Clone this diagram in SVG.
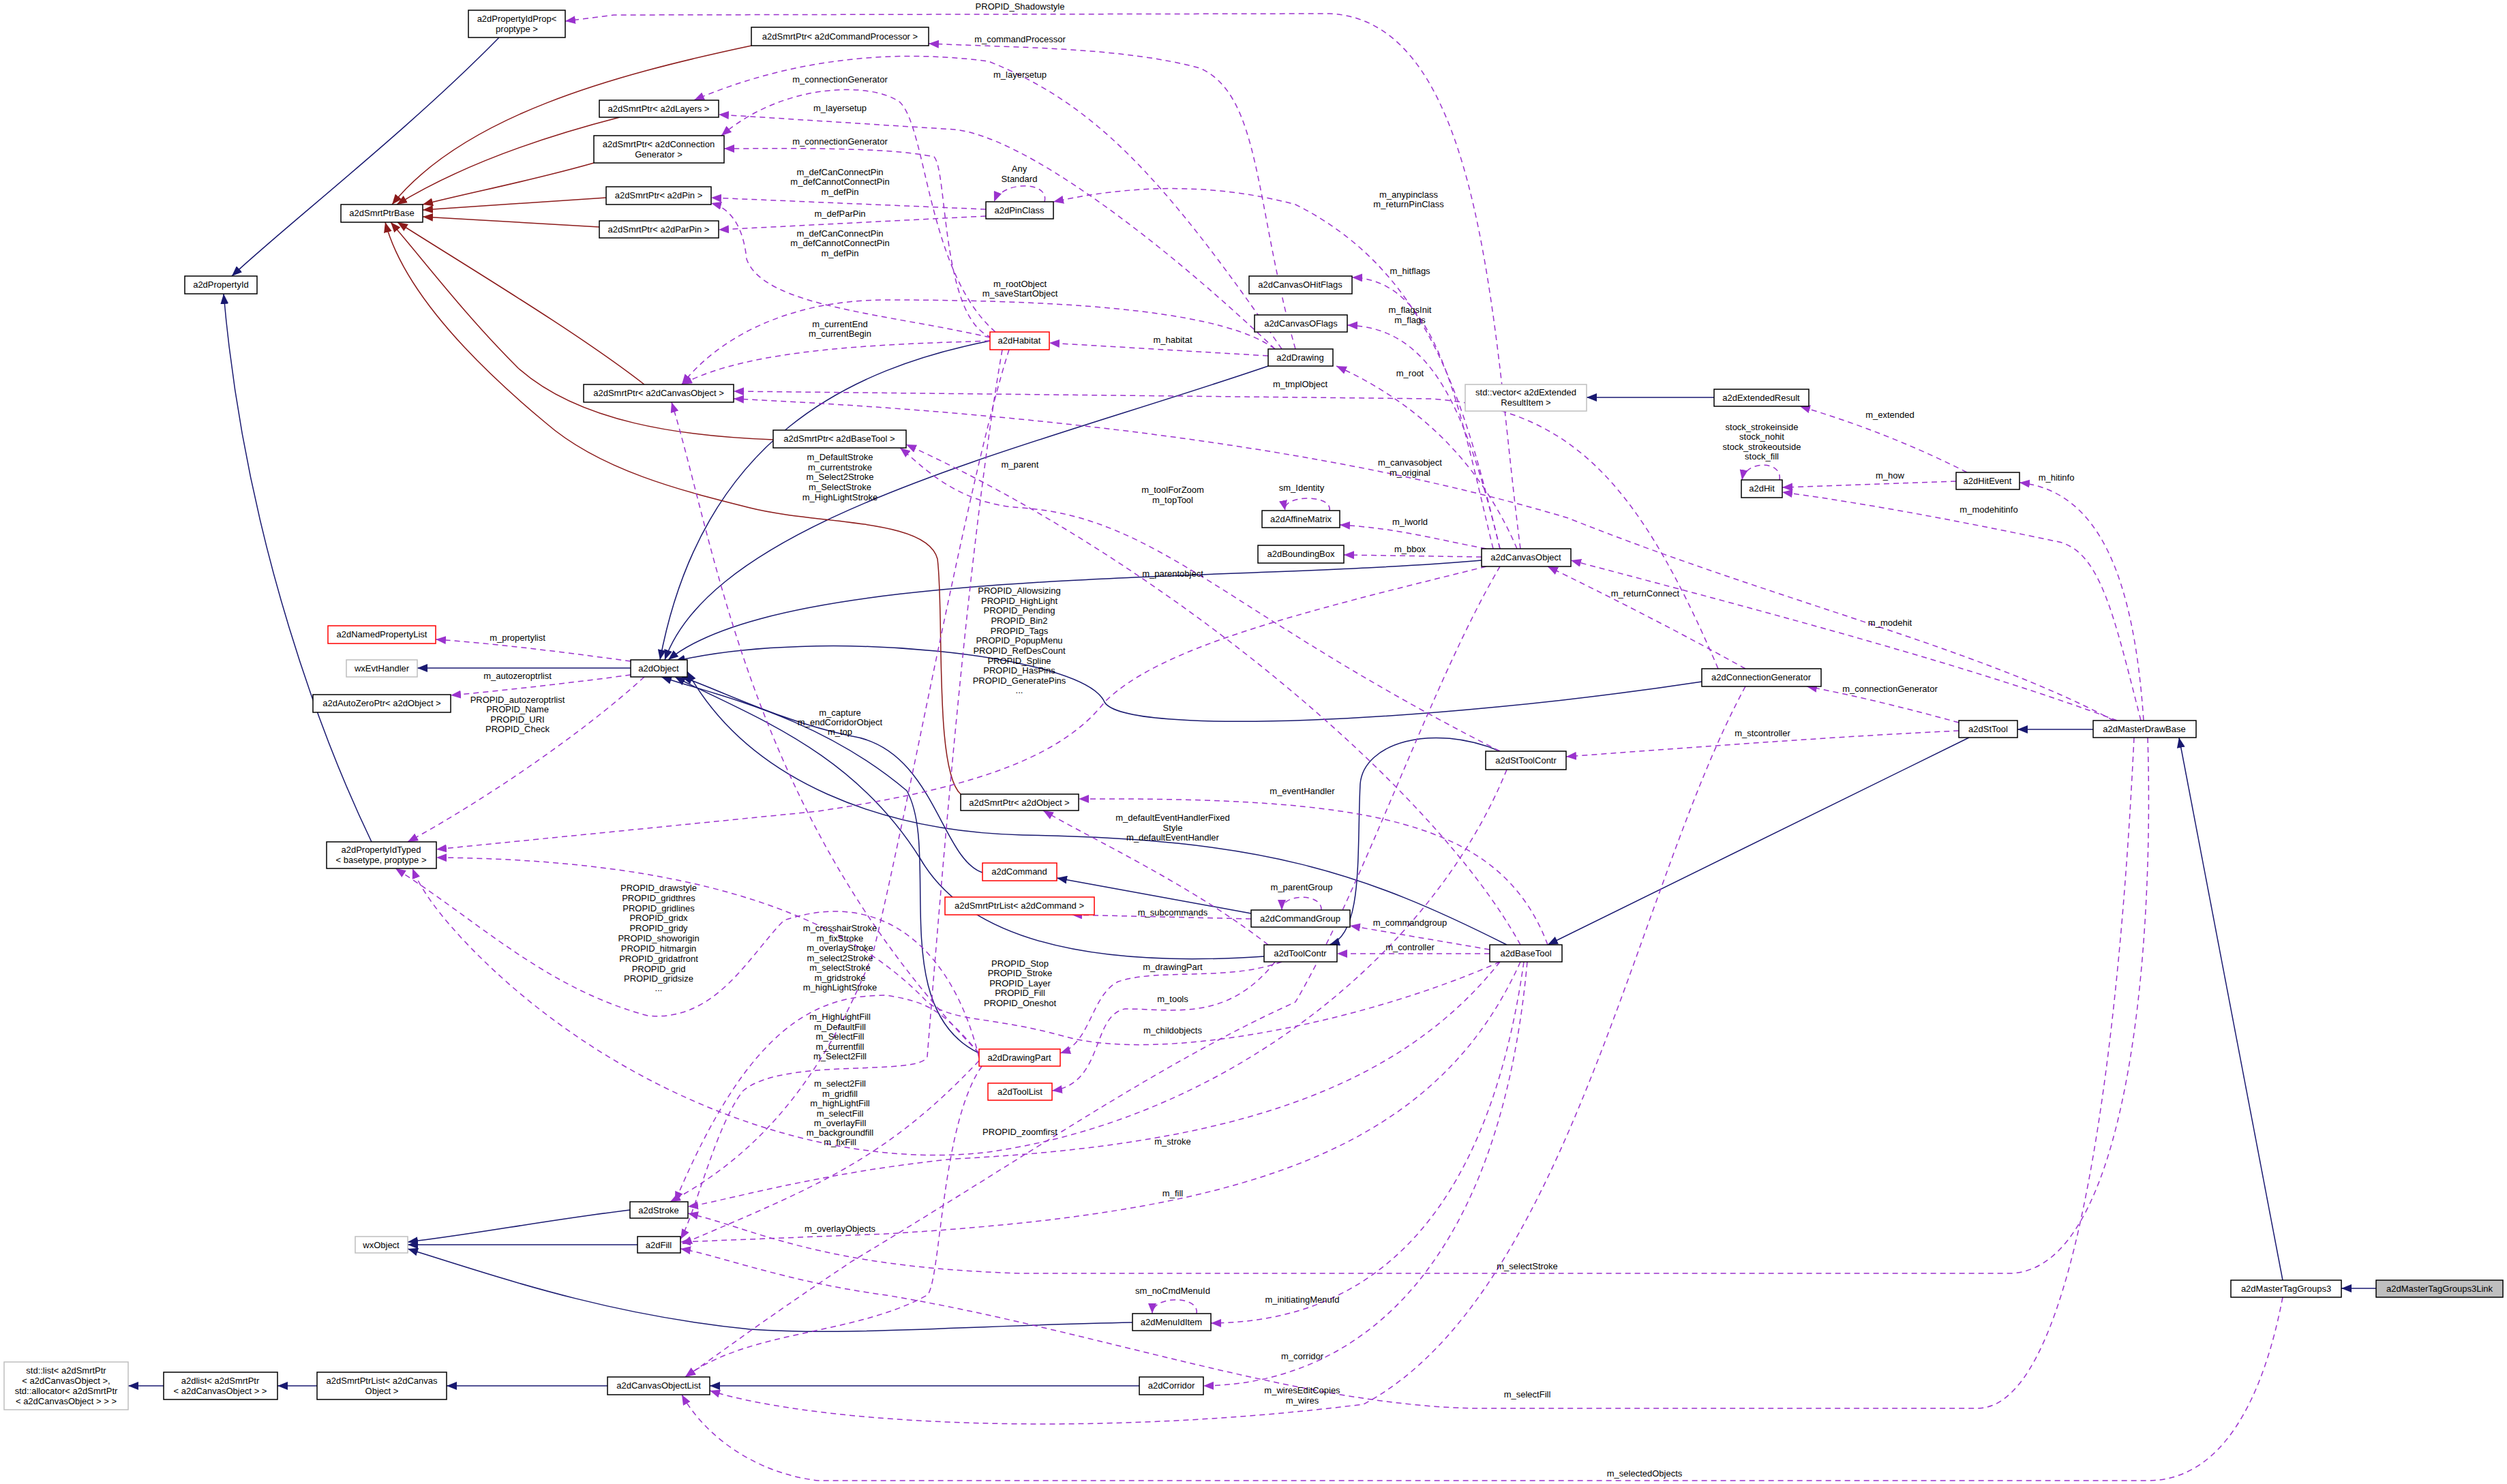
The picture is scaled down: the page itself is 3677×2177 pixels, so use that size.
<svg xmlns="http://www.w3.org/2000/svg" width="3677" height="2177" viewBox="0 0 3677 2177">
<style>
text{font-family:"Liberation Sans",Arial,sans-serif;font-size:13px;text-anchor:middle;fill:#000}
.n rect{fill:#fff;stroke:#000;stroke-width:1.5}
.g rect{fill:#fff;stroke:#bfbfbf;stroke-width:1.5}
.r rect{fill:#fff;stroke:#ff0000;stroke-width:1.5}
.s rect{fill:#bfbfbf;stroke:#000;stroke-width:1.5}
#edges path{fill:none}
.i{stroke:#191970;stroke-width:1.5;marker-end:url(#ai)}
.d{stroke:#8b1a1a;stroke-width:1.5;marker-end:url(#ad)}
.u{stroke:#9a32cd;stroke-width:1.5;stroke-dasharray:8,6;marker-end:url(#au)}
</style>
<defs>
<marker id="ai" markerUnits="userSpaceOnUse" markerWidth="16" markerHeight="12" refX="15" refY="6" orient="auto"><path d="M0,0 L15,6 L0,12 z" fill="#191970"/></marker>
<marker id="ad" markerUnits="userSpaceOnUse" markerWidth="16" markerHeight="12" refX="15" refY="6" orient="auto"><path d="M0,0 L15,6 L0,12 z" fill="#8b1a1a"/></marker>
<marker id="au" markerUnits="userSpaceOnUse" markerWidth="16" markerHeight="12" refX="15" refY="6" orient="auto"><path d="M0,0 L15,6 L0,12 z" fill="#9a32cd"/></marker>
</defs>
<rect width="3677" height="2177" fill="#fff"/>
<g id="edges">
<path class="i" d="M732,55 C600,190 420,330 340,405"/>
<path class="i" d="M545,1235 C480,1100 360,800 328,431"/>
<path class="i" d="M1452,500 C1250,540 1030,640 968,968"/>
<path class="i" d="M1860,537 C1500,660 1050,760 975,968"/>
<path class="i" d="M2173,822 C1800,855 1150,830 980,968"/>
<path class="i" d="M2496,1000 C2100,1060 1650,1080 1620,1030 C1590,960 1200,920 990,970"/>
<path class="i" d="M1441,1280 C1380,1260 1370,1100 1250,1080 C1150,1060 1050,1010 1000,993"/>
<path class="i" d="M2210,1386 C2000,1280 1850,1230 1500,1225 C1300,1220 1100,1150 1008,985"/>
<path class="i" d="M1854,1403 C1600,1420 1420,1380 1350,1260 C1250,1100 1100,1050 990,993"/>
<path class="i" d="M1436,1545 C1300,1480 1380,1250 1330,1160 C1200,1050 1050,1020 970,993"/>
<path class="i" d="M2200,1102 C2100,1060 2000,1090 1995,1150 C1990,1250 2000,1370 1950,1386"/>
<path class="i" d="M1835,1340 L1550,1288"/>
<path class="i" d="M2888,1082 L2270,1386"/>
<path class="i" d="M3070,1070 L2959,1070"/>
<path class="i" d="M3348,1878 L3196,1082"/>
<path class="i" d="M3485,1890 L3434,1890"/>
<path class="i" d="M2514,583 L2327,583"/>
<path class="i" d="M925,980 L612,980"/>
<path class="i" d="M924,1775 C800,1790 700,1810 598,1822"/>
<path class="i" d="M935,1826 L598,1826"/>
<path class="i" d="M1661,1940 C1400,1945 1250,1960 1100,1950 C900,1930 750,1880 598,1832"/>
<path class="i" d="M891,2033 L655,2033"/>
<path class="i" d="M465,2033 L407,2033"/>
<path class="i" d="M240,2033 L188,2033"/>
<path class="i" d="M1671,2033 L1041,2033"/>
<path class="d" d="M1102,67 C900,110 680,170 575,300"/>
<path class="d" d="M909,172 C800,200 680,240 582,300"/>
<path class="d" d="M871,239 C780,265 700,280 620,300"/>
<path class="d" d="M889,290 L620,308"/>
<path class="d" d="M879,333 L620,318"/>
<path class="d" d="M945,564 C850,490 700,400 583,326"/>
<path class="d" d="M1134,645 C1000,640 850,620 760,540 C680,460 620,380 573,326"/>
<path class="d" d="M1409,1165 C1370,1130 1385,900 1375,820 C1360,760 1200,770 1100,745 C1000,720 880,690 800,620 C680,520 590,420 565,326"/>
<path class="u" d="M2230,805 C2190,500 2180,30 1950,20 L900,22 L829,31"/>
<path class="u" d="M1900,512 C1840,300 1850,140 1760,100 C1650,70 1500,70 1362,64"/>
<path class="u" d="M1880,512 C1700,250 1600,150 1450,90 C1300,70 1150,90 1018,147"/>
<path class="u" d="M1460,487 C1360,400 1360,190 1320,150 C1280,120 1150,120 1058,199"/>
<path class="u" d="M1870,512 C1700,350 1500,200 1400,190 L1054,168"/>
<path class="u" d="M1455,495 C1380,470 1390,250 1370,230 C1300,215 1150,218 1062,218"/>
<path class="u" d="M1446,307 L1043,290"/>
<path class="u" d="M1446,317 L1054,337"/>
<path class="u" d="M1452,495 C1300,460 1120,450 1095,380 C1090,330 1070,305 1043,298"/>
<path class="u" d="M1532,296 C1540,265 1470,265 1458,296"/>
<path class="u" d="M2200,805 C2150,600 2100,400 1900,300 C1750,260 1620,280 1545,296"/>
<path class="u" d="M1870,512 C1800,460 1600,440 1300,440 C1150,440 1050,500 1000,564"/>
<path class="u" d="M1452,500 C1300,505 1100,510 1000,564"/>
<path class="u" d="M1860,522 L1539,503"/>
<path class="u" d="M2190,805 C2140,600 2110,410 1983,407"/>
<path class="u" d="M2200,805 C2150,600 2100,480 1976,477"/>
<path class="u" d="M2225,805 C2180,700 2100,600 1960,537"/>
<path class="u" d="M2520,981 C2400,700 2300,600 2100,585 L1076,574"/>
<path class="u" d="M3100,1057 C2900,950 2600,880 2300,760 C1900,640 1400,600 1076,585"/>
<path class="u" d="M2230,1386 C2100,1150 1700,820 1329,652"/>
<path class="u" d="M2200,1102 C1800,900 1700,760 1500,745 C1400,740 1350,680 1320,657"/>
<path class="u" d="M1950,749 C1955,725 1880,725 1885,749"/>
<path class="u" d="M2180,805 C2100,790 2050,775 1965,770"/>
<path class="u" d="M2173,817 L1971,814"/>
<path class="u" d="M2180,831 C1900,900 1700,950 1620,1030 C1550,1120 1400,1160 1200,1190 C900,1220 700,1240 640,1246"/>
<path class="u" d="M2560,981 C2450,920 2350,870 2270,831"/>
<path class="u" d="M2885,693 C2800,650 2720,620 2640,596"/>
<path class="u" d="M2610,704 C2615,675 2560,675 2555,704"/>
<path class="u" d="M2869,706 L2614,715"/>
<path class="u" d="M3144,1057 C3130,850 3080,720 2962,708"/>
<path class="u" d="M3140,1057 C3100,900 3080,810 3020,795 C2900,770 2750,740 2614,722"/>
<path class="u" d="M3105,1057 C2900,980 2600,900 2304,822"/>
<path class="u" d="M2873,1060 C2800,1040 2720,1020 2650,1007"/>
<path class="u" d="M2873,1072 C2700,1080 2500,1095 2297,1110"/>
<path class="u" d="M2270,1386 C2200,1200 2000,1170 1582,1172"/>
<path class="u" d="M1860,1386 C1750,1300 1600,1230 1530,1189"/>
<path class="u" d="M1938,1335 C1940,1310 1880,1310 1880,1335"/>
<path class="u" d="M1835,1348 L1572,1342"/>
<path class="u" d="M2185,1393 L1980,1358"/>
<path class="u" d="M2185,1399 L1961,1399"/>
<path class="u" d="M2200,1411 C2000,1500 1700,1560 1560,1520 C1450,1490 1400,1500 1360,1470 C1200,1300 900,1260 640,1258"/>
<path class="u" d="M1880,1411 C1800,1440 1700,1420 1640,1440 C1600,1460 1600,1530 1555,1545"/>
<path class="u" d="M1870,1411 C1800,1500 1720,1480 1650,1480 C1600,1490 1620,1590 1543,1600"/>
<path class="u" d="M2200,831 C2100,1000 2000,1300 1900,1470 C1700,1560 1500,1700 1250,1850 C1100,1950 1050,1990 1005,2020"/>
<path class="u" d="M2210,1129 C2100,1400 1800,1640 1450,1690 C1200,1720 900,1600 700,1400 C640,1340 615,1300 605,1274"/>
<path class="u" d="M2200,1411 C2050,1600 1800,1680 1400,1700 C1200,1720 1050,1765 1009,1770"/>
<path class="u" d="M2230,1411 C2100,1700 1800,1780 1300,1810 L998,1822"/>
<path class="u" d="M3150,1082 C3160,1400 3120,1860 2950,1868 L1500,1868 C1200,1860 1100,1800 1009,1780"/>
<path class="u" d="M1755,1927 C1760,1900 1690,1900 1690,1927"/>
<path class="u" d="M2235,1411 C2180,1800 2000,1940 1776,1941"/>
<path class="u" d="M2240,1411 C2200,1850 2000,2030 1765,2033"/>
<path class="u" d="M2560,1007 C2400,1300 2300,1900 2000,2060 C1600,2110 1200,2090 1041,2040"/>
<path class="u" d="M3130,1082 C3110,1500 3050,2066 2900,2066 L2160,2066 C1900,2060 1600,1950 1300,1900 C1150,1880 1050,1840 998,1832"/>
<path class="u" d="M3348,1903 C3320,2050 3260,2172 3150,2172 L1200,2172 C1100,2160 1030,2100 1000,2046"/>
<path class="u" d="M1436,1552 C1400,1400 1300,1300 1150,1350 C1100,1400 1050,1500 950,1490 C800,1450 700,1350 580,1274"/>
<path class="u" d="M1436,1545 C1380,1480 1360,1470 1300,1460 C1200,1460 1100,1500 990,1763"/>
<path class="u" d="M1470,513 C1420,800 1380,1300 1360,1550 C1350,1580 1150,1550 1090,1600 C1050,1650 1020,1780 998,1818"/>
<path class="u" d="M1436,1556 C1300,1700 1200,1740 1000,1825"/>
<path class="u" d="M1440,1564 C1380,1650 1380,1880 1360,1900 C1250,1960 1100,1950 1005,2020"/>
<path class="u" d="M1480,513 C1420,700 1330,1200 1280,1400 C1200,1600 1100,1700 983,1763"/>
<path class="u" d="M1436,1545 C1100,1200 1050,800 985,590"/>
<path class="u" d="M925,970 C850,960 740,945 639,938"/>
<path class="u" d="M925,990 C850,1000 750,1012 661,1020"/>
<path class="u" d="M945,993 C850,1080 700,1180 598,1235"/>
</g>
<g id="labels">
<text x="1496" y="14">PROPID_Shadowstyle</text>
<text x="1496" y="62">m_commandProcessor</text>
<text x="1496" y="114">m_layersetup</text>
<text x="1232" y="121">m_connectionGenerator</text>
<text x="1232" y="163">m_layersetup</text>
<text x="1232" y="212">m_connectionGenerator</text>
<text x="1232" y="257">m_defCanConnectPin</text><text x="1232" y="271">m_defCannotConnectPin</text><text x="1232" y="286">m_defPin</text>
<text x="1232" y="318">m_defParPin</text>
<text x="1232" y="347">m_defCanConnectPin</text><text x="1232" y="361">m_defCannotConnectPin</text><text x="1232" y="376">m_defPin</text>
<text x="1495" y="252">Any</text><text x="1495" y="267">Standard</text>
<text x="2066" y="290">m_anypinclass</text><text x="2066" y="304">m_returnPinClass</text>
<text x="1496" y="421">m_rootObject</text><text x="1496" y="435">m_saveStartObject</text>
<text x="1232" y="480">m_currentEnd</text><text x="1232" y="494">m_currentBegin</text>
<text x="1720" y="503">m_habitat</text>
<text x="2068" y="402">m_hitflags</text>
<text x="2068" y="459">m_flagsInit</text><text x="2068" y="474">m_flags</text>
<text x="2068" y="552">m_root</text>
<text x="1907" y="568">m_tmplObject</text>
<text x="2068" y="683">m_canvasobject</text><text x="2068" y="698">m_original</text>
<text x="1496" y="686">m_parent</text>
<text x="1720" y="723">m_toolForZoom</text><text x="1720" y="738">m_topTool</text>
<text x="1909" y="720">sm_Identity</text>
<text x="2068" y="770">m_lworld</text>
<text x="2068" y="810">m_bbox</text>
<text x="1720" y="846">m_parentobject</text>
<text x="1495" y="871">PROPID_Allowsizing</text><text x="1495" y="886">PROPID_HighLight</text><text x="1495" y="900">PROPID_Pending</text><text x="1495" y="915">PROPID_Bin2</text><text x="1495" y="930">PROPID_Tags</text><text x="1495" y="944">PROPID_PopupMenu</text><text x="1495" y="959">PROPID_RefDesCount</text><text x="1495" y="974">PROPID_Spline</text><text x="1495" y="988">PROPID_HasPins</text><text x="1495" y="1003">PROPID_GeneratePins</text><text x="1495" y="1017">...</text>
<text x="2413" y="875">m_returnConnect</text>
<text x="2772" y="613">m_extended</text>
<text x="2584" y="631">stock_strokeinside</text><text x="2584" y="645">stock_nohit</text><text x="2584" y="660">stock_strokeoutside</text><text x="2584" y="674">stock_fill</text>
<text x="2772" y="702">m_how</text>
<text x="3016" y="705">m_hitinfo</text>
<text x="2917" y="752">m_modehitinfo</text>
<text x="2772" y="918">m_modehit</text>
<text x="2772" y="1015">m_connectionGenerator</text>
<text x="2585" y="1080">m_stcontroller</text>
<text x="1910" y="1165">m_eventHandler</text>
<text x="1720" y="1204">m_defaultEventHandlerFixed</text><text x="1720" y="1219">Style</text><text x="1720" y="1233">m_defaultEventHandler</text>
<text x="1909" y="1306">m_parentGroup</text>
<text x="1720" y="1343">m_subcommands</text>
<text x="2068" y="1358">m_commandgroup</text>
<text x="2068" y="1394">m_controller</text>
<text x="1496" y="1418">PROPID_Stop</text><text x="1496" y="1432">PROPID_Stroke</text><text x="1496" y="1447">PROPID_Layer</text><text x="1496" y="1461">PROPID_Fill</text><text x="1496" y="1476">PROPID_Oneshot</text>
<text x="1720" y="1423">m_drawingPart</text>
<text x="1720" y="1470">m_tools</text>
<text x="1720" y="1516">m_childobjects</text>
<text x="1496" y="1665">PROPID_zoomfirst</text>
<text x="1720" y="1679">m_stroke</text>
<text x="1720" y="1755">m_fill</text>
<text x="2240" y="1862">m_selectStroke</text>
<text x="1720" y="1898">sm_noCmdMenuId</text>
<text x="1910" y="1911">m_initiatingMenuId</text>
<text x="1910" y="1994">m_corridor</text>
<text x="1910" y="2044">m_wiresEditCopies</text><text x="1910" y="2059">m_wires</text>
<text x="2240" y="2050">m_selectFill</text>
<text x="2412" y="2166">m_selectedObjects</text>
<text x="966" y="1307">PROPID_drawstyle</text><text x="966" y="1322">PROPID_gridthres</text><text x="966" y="1337">PROPID_gridlines</text><text x="966" y="1351">PROPID_gridx</text><text x="966" y="1366">PROPID_gridy</text><text x="966" y="1381">PROPID_showorigin</text><text x="966" y="1396">PROPID_hitmargin</text><text x="966" y="1411">PROPID_gridatfront</text><text x="966" y="1426">PROPID_grid</text><text x="966" y="1440">PROPID_gridsize</text><text x="966" y="1454">...</text>
<text x="1232" y="1366">m_crosshairStroke</text><text x="1232" y="1381">m_fixStroke</text><text x="1232" y="1395">m_overlayStroke</text><text x="1232" y="1410">m_select2Stroke</text><text x="1232" y="1424">m_selectStroke</text><text x="1232" y="1439">m_gridstroke</text><text x="1232" y="1453">m_highLightStroke</text>
<text x="1232" y="1496">m_HighLightFill</text><text x="1232" y="1511">m_DefaultFill</text><text x="1232" y="1525">m_SelectFill</text><text x="1232" y="1540">m_currentfill</text><text x="1232" y="1554">m_Select2Fill</text>
<text x="1232" y="1594">m_select2Fill</text><text x="1232" y="1609">m_gridfill</text><text x="1232" y="1623">m_highLightFill</text><text x="1232" y="1638">m_selectFill</text><text x="1232" y="1652">m_overlayFill</text><text x="1232" y="1666">m_backgroundfill</text><text x="1232" y="1680">m_fixFill</text>
<text x="1232" y="1807">m_overlayObjects</text>
<text x="1232" y="675">m_DefaultStroke</text><text x="1232" y="690">m_currentstroke</text><text x="1232" y="704">m_Select2Stroke</text><text x="1232" y="719">m_SelectStroke</text><text x="1232" y="734">m_HighLightStroke</text>
<text x="759" y="940">m_propertylist</text>
<text x="759" y="996">m_autozeroptrlist</text>
<text x="759" y="1031">PROPID_autozeroptrlist</text><text x="759" y="1045">PROPID_Name</text><text x="759" y="1060">PROPID_URI</text><text x="759" y="1074">PROPID_Check</text>
<text x="1232" y="1050">m_capture</text><text x="1232" y="1064">m_endCorridorObject</text><text x="1232" y="1078">m_top</text>
</g>
<g id="PIdProp" class="n"><rect x="687" y="15" width="142" height="40"/><text x="758" y="32">a2dPropertyIdProp&lt;</text><text x="758" y="47">proptype &gt;</text></g>
<g id="CmdProcPtr" class="n"><rect x="1102" y="40" width="260" height="27"/><text x="1232" y="58">a2dSmrtPtr&lt; a2dCommandProcessor &gt;</text></g>
<g id="LayersPtr" class="n"><rect x="879" y="147" width="175" height="25"/><text x="966" y="164">a2dSmrtPtr&lt; a2dLayers &gt;</text></g>
<g id="ConnGenPtr" class="n"><rect x="871" y="199" width="191" height="40"/><text x="966" y="216">a2dSmrtPtr&lt; a2dConnection</text><text x="966" y="231">Generator &gt;</text></g>
<g id="PinPtr" class="n"><rect x="889" y="274" width="154" height="26"/><text x="966" y="291">a2dSmrtPtr&lt; a2dPin &gt;</text></g>
<g id="ParPinPtr" class="n"><rect x="879" y="324" width="175" height="25"/><text x="966" y="341">a2dSmrtPtr&lt; a2dParPin &gt;</text></g>
<g id="SmrtPtrBase" class="n"><rect x="500" y="300" width="120" height="26"/><text x="560" y="317">a2dSmrtPtrBase</text></g>
<g id="PropertyId" class="n"><rect x="271" y="405" width="106" height="26"/><text x="324" y="422">a2dPropertyId</text></g>
<g id="COPtr" class="n"><rect x="856" y="564" width="220" height="26"/><text x="966" y="581">a2dSmrtPtr&lt; a2dCanvasObject &gt;</text></g>
<g id="BTPtr" class="n"><rect x="1134" y="631" width="195" height="26"/><text x="1231" y="648">a2dSmrtPtr&lt; a2dBaseTool &gt;</text></g>
<g id="NamedPL" class="r"><rect x="481" y="918" width="158" height="26"/><text x="560" y="935">a2dNamedPropertyList</text></g>
<g id="wxEvtHandler" class="g"><rect x="508" y="968" width="104" height="25"/><text x="560" y="985">wxEvtHandler</text></g>
<g id="a2dObject" class="n"><rect x="925" y="968" width="83" height="25"/><text x="966" y="985">a2dObject</text></g>
<g id="AutoZero" class="n"><rect x="459" y="1019" width="202" height="26"/><text x="560" y="1036">a2dAutoZeroPtr&lt; a2dObject &gt;</text></g>
<g id="PinClass" class="n"><rect x="1446" y="296" width="99" height="25"/><text x="1495" y="313">a2dPinClass</text></g>
<g id="Habitat" class="r"><rect x="1452" y="487" width="87" height="26"/><text x="1495" y="504">a2dHabitat</text></g>
<g id="Drawing" class="n"><rect x="1860" y="512" width="95" height="25"/><text x="1907" y="529">a2dDrawing</text></g>
<g id="OHitFlags" class="n"><rect x="1832" y="405" width="151" height="26"/><text x="1907" y="422">a2dCanvasOHitFlags</text></g>
<g id="OFlags" class="n"><rect x="1840" y="462" width="136" height="25"/><text x="1908" y="479">a2dCanvasOFlags</text></g>
<g id="ExtVector" class="g"><rect x="2149" y="564" width="178" height="39"/><text x="2238" y="580">std::vector&lt; a2dExtended</text><text x="2238" y="595">ResultItem &gt;</text></g>
<g id="ExtendedResult" class="n"><rect x="2514" y="571" width="139" height="25"/><text x="2583" y="588">a2dExtendedResult</text></g>
<g id="Hit" class="n"><rect x="2554" y="704" width="60" height="26"/><text x="2584" y="721">a2dHit</text></g>
<g id="HitEvent" class="n"><rect x="2869" y="693" width="93" height="25"/><text x="2915" y="710">a2dHitEvent</text></g>
<g id="AffineMatrix" class="n"><rect x="1851" y="749" width="114" height="25"/><text x="1908" y="766">a2dAffineMatrix</text></g>
<g id="BoundingBox" class="n"><rect x="1845" y="800" width="126" height="26"/><text x="1908" y="817">a2dBoundingBox</text></g>
<g id="CanvasObject" class="n"><rect x="2173" y="805" width="131" height="26"/><text x="2238" y="822">a2dCanvasObject</text></g>
<g id="ConnectionGenerator" class="n"><rect x="2496" y="981" width="175" height="26"/><text x="2583" y="998">a2dConnectionGenerator</text></g>
<g id="StTool" class="n"><rect x="2873" y="1057" width="86" height="25"/><text x="2916" y="1074">a2dStTool</text></g>
<g id="MasterDrawBase" class="n"><rect x="3070" y="1057" width="151" height="25"/><text x="3145" y="1074">a2dMasterDrawBase</text></g>
<g id="StToolContr" class="n"><rect x="2179" y="1102" width="118" height="27"/><text x="2238" y="1120">a2dStToolContr</text></g>
<g id="ObjPtr" class="n"><rect x="1409" y="1165" width="173" height="24"/><text x="1495" y="1182">a2dSmrtPtr&lt; a2dObject &gt;</text></g>
<g id="Command" class="r"><rect x="1441" y="1266" width="109" height="26"/><text x="1495" y="1283">a2dCommand</text></g>
<g id="CmdList" class="r"><rect x="1386" y="1316" width="219" height="26"/><text x="1495" y="1333">a2dSmrtPtrList&lt; a2dCommand &gt;</text></g>
<g id="CommandGroup" class="n"><rect x="1835" y="1335" width="145" height="25"/><text x="1907" y="1352">a2dCommandGroup</text></g>
<g id="ToolContr" class="n"><rect x="1854" y="1386" width="107" height="25"/><text x="1907" y="1403">a2dToolContr</text></g>
<g id="BaseTool" class="n"><rect x="2185" y="1386" width="106" height="25"/><text x="2238" y="1403">a2dBaseTool</text></g>
<g id="DrawingPart" class="r"><rect x="1436" y="1539" width="119" height="25"/><text x="1495" y="1556">a2dDrawingPart</text></g>
<g id="ToolList" class="r"><rect x="1449" y="1589" width="94" height="25"/><text x="1496" y="1606">a2dToolList</text></g>
<g id="MenuIdItem" class="n"><rect x="1661" y="1927" width="115" height="25"/><text x="1718" y="1944">a2dMenuIdItem</text></g>
<g id="Corridor" class="n"><rect x="1671" y="2020" width="94" height="26"/><text x="1718" y="2037">a2dCorridor</text></g>
<g id="PIdTyped" class="n"><rect x="479" y="1235" width="161" height="39"/><text x="559" y="1251">a2dPropertyIdTyped</text><text x="559" y="1266">&lt; basetype, proptype &gt;</text></g>
<g id="Stroke" class="n"><rect x="924" y="1763" width="85" height="24"/><text x="966" y="1780">a2dStroke</text></g>
<g id="Fill" class="n"><rect x="935" y="1814" width="63" height="24"/><text x="966" y="1831">a2dFill</text></g>
<g id="wxObject" class="g"><rect x="521" y="1814" width="77" height="24"/><text x="559" y="1831">wxObject</text></g>
<g id="stdList" class="g"><rect x="6" y="1998" width="182" height="70"/><text x="97" y="2015">std::list&lt; a2dSmrtPtr</text><text x="97" y="2030">&lt; a2dCanvasObject &gt;,</text><text x="97" y="2045">std::allocator&lt; a2dSmrtPtr</text><text x="97" y="2060">&lt; a2dCanvasObject &gt; &gt; &gt;</text></g>
<g id="a2dlist" class="n"><rect x="240" y="2013" width="167" height="40"/><text x="323" y="2030">a2dlist&lt; a2dSmrtPtr</text><text x="323" y="2045">&lt; a2dCanvasObject &gt; &gt;</text></g>
<g id="SPLCO" class="n"><rect x="465" y="2013" width="190" height="40"/><text x="560" y="2030">a2dSmrtPtrList&lt; a2dCanvas</text><text x="560" y="2045">Object &gt;</text></g>
<g id="CanvasObjectList" class="n"><rect x="891" y="2020" width="150" height="26"/><text x="966" y="2037">a2dCanvasObjectList</text></g>
<g id="MasterTagGroups3" class="n"><rect x="3272" y="1878" width="162" height="25"/><text x="3353" y="1895">a2dMasterTagGroups3</text></g>
<g id="MasterTagGroups3Link" class="s"><rect x="3485" y="1878" width="186" height="25"/><text x="3578" y="1895">a2dMasterTagGroups3Link</text></g>
</svg>
